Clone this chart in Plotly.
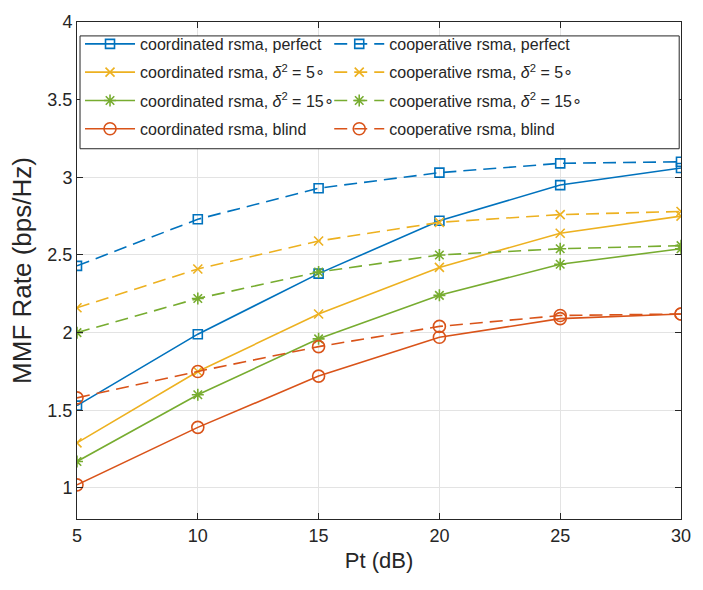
import plotly.graph_objects as go

pt_db = [5, 10, 15, 20, 25, 30]

coord_perfect = [1.53, 1.99, 2.38, 2.72, 2.95, 3.06]
coop_perfect = [2.43, 2.73, 2.93, 3.03, 3.09, 3.10]
coord_d5 = [1.29, 1.75, 2.12, 2.42, 2.64, 2.75]
coop_d5 = [2.16, 2.41, 2.59, 2.71, 2.76, 2.78]
coord_d15 = [1.17, 1.60, 1.96, 2.24, 2.44, 2.54]
coop_d15 = [2.00, 2.22, 2.39, 2.50, 2.54, 2.56]
coord_blind = [1.02, 1.39, 1.72, 1.97, 2.09, 2.12]
coop_blind = [1.58, 1.75, 1.91, 2.04, 2.11, 2.12]

y_ticks = [1, 1.5, 2, 2.5, 3, 3.5, 4]
y_tick_labels = ["1", "1.5", "2", "2.5", "3", "3.5", "4"]

BLUE = "#0072BD"
YELLOW = "#EDB120"
GREEN = "#77AC30"
ORANGE = "#D95319"
INK = "#262626"
DASH = "13px,7px"
FONT = "Liberation Sans, Arial, sans-serif"

d5 = "<i>δ</i><sup>2</sup> = 5∘"
d15 = "<i>δ</i><sup>2</sup> = 15∘"

# (name, values, colour, marker symbol, marker size, dashed?)
series = [
    ("coordinated rsma, perfect", coord_perfect, BLUE, "square-open", 9, False),
    ("cooperative rsma, perfect", coop_perfect, BLUE, "square-open", 9, True),
    ("coordinated rsma, " + d5, coord_d5, YELLOW, "x-thin-open", 9, False),
    ("cooperative rsma, " + d5, coop_d5, YELLOW, "x-thin-open", 9, True),
    ("coordinated rsma, " + d15, coord_d15, GREEN, "asterisk-open", 10, False),
    ("cooperative rsma, " + d15, coop_d15, GREEN, "asterisk-open", 10, True),
    ("coordinated rsma, blind", coord_blind, ORANGE, "circle-open", 12, False),
    ("cooperative rsma, blind", coop_blind, ORANGE, "circle-open", 12, True),
]

fig = go.Figure()
for i, (name, vals, color, sym, size, dashed) in enumerate(series):
    fig.add_trace(go.Scatter(
        x=pt_db, y=vals, name=name, mode="lines+markers",
        legend="legend2" if dashed else "legend",
        legendgroup=f"g{i}",
        line=dict(color=color, width=1.6, dash=DASH if dashed else "solid"),
        marker=dict(symbol=sym, size=size, color=color,
                    line=dict(color=color, width=1.6)),
    ))

axis_common = dict(
    showline=True, linecolor=INK, linewidth=1, mirror="allticks",
    ticks="inside", ticklen=6, tickcolor=INK,
    showgrid=True, gridcolor="#e3e3e3", gridwidth=1, zeroline=False,
    tickfont=dict(family=FONT, size=18, color=INK),
)

fig.update_xaxes(
    range=[5, 30], tickvals=pt_db, ticktext=[str(v) for v in pt_db],
    title=dict(text="Pt (dB)", font=dict(family=FONT, size=22, color=INK), standoff=8),
    **axis_common,
)
fig.update_yaxes(
    range=[0.8, 4], tickvals=y_ticks, ticktext=y_tick_labels,
    title=dict(text="MMF Rate (bps/Hz)", font=dict(family=FONT, size=26, color=INK),
               standoff=8),
    **axis_common,
)

# legend frame: white box with a dark border across the top of the axes
fig.add_shape(type="rect", xref="paper", yref="paper",
              x0=0.005, x1=0.997, y0=0.745, y1=0.972,
              fillcolor="white", line=dict(color=INK, width=1), layer="above")

legend_common = dict(
    orientation="v", yanchor="top", xanchor="left", y=0.99,
    bgcolor="rgba(0,0,0,0)", borderwidth=0, itemwidth=50,
    tracegroupgap=4.5,
    font=dict(family=FONT, size=16, color=INK),
)

fig.update_layout(
    width=703, height=590,
    margin=dict(l=77, r=13, t=14, b=71),
    plot_bgcolor="white", paper_bgcolor="white",
    legend=dict(x=0.005, **legend_common),
    legend2=dict(x=0.4176, **legend_common),
)

fig.write_html("out.html")
